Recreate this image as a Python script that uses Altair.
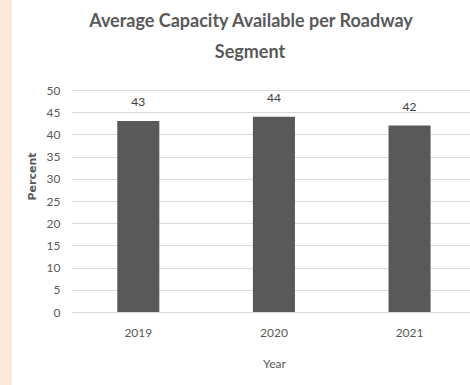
import altair as alt
import pandas as pd

years = ["2019", "2020", "2021"]
values = [43, 44, 42]
y_ticks = [0, 5, 10, 15, 20, 25, 30, 35, 40, 45, 50]
title_lines = ["Average Capacity Available per Roadway", "Segment"]

df = pd.DataFrame({"Year": years, "Percent": values})

FONT = "Lato"

x_enc = alt.X(
    "Year:N",
    sort=years,
    scale=alt.Scale(paddingInner=0.69, paddingOuter=0.316, align=0.54),
    axis=alt.Axis(
        title="Year", labelAngle=0, ticks=False, domain=False,
        labelFont=FONT, labelFontSize=12, labelColor="#595959", labelPadding=15,
        titleFont=FONT, titleFontSize=12, titleColor="#595959", titleFontWeight="normal",
        titleX=203, titleY=51, titleBaseline="middle", titleAlign="center",
    ),
)
y_enc = alt.Y(
    "Percent:Q",
    scale=alt.Scale(domain=[0, 50], nice=False),
    axis=alt.Axis(
        title="Percent", values=y_ticks, ticks=False, domain=False, labelOverlap=False,
        labelFont=FONT, labelFontSize=12, labelColor="#595959", labelPadding=11,
        gridColor="#d9d9d9", gridWidth=1,
        titleFont="DejaVu Sans", titleFontSize=11, titleColor="#595959", titleFontWeight="bold",
        titleX=-39, titleY=86, titleAngle=270, titleBaseline="middle", titleAlign="center",
    ),
)

strip = alt.Chart(pd.DataFrame({"a": [0]})).mark_rect(color="#FDE9D9", clip=False).encode(
    x=alt.value(-71), x2=alt.value(-59), y=alt.value(-90), y2=alt.value(295)
)

title1 = alt.Chart(pd.DataFrame({"t": [title_lines[0]]})).mark_text(
    font=FONT, fontSize=18, fontWeight="bold", color="#595959", align="center", baseline="alphabetic"
).encode(x=alt.value(180), y=alt.value(-63), text="t:N")
title2 = alt.Chart(pd.DataFrame({"t": [title_lines[1]]})).mark_text(
    font=FONT, fontSize=18, fontWeight="bold", color="#595959", align="center", baseline="alphabetic"
).encode(x=alt.value(179), y=alt.value(-32), text="t:N")

base = alt.Chart(df).encode(x=x_enc, y=y_enc)
bars = base.mark_bar(color="#595959")
labels = base.mark_text(
    baseline="middle", dy=-19, font=FONT, fontSize=12, color="#404040"
).encode(text="Percent:Q")

chart = alt.layer(strip, title1, title2, bars, labels).properties(
    width=399,
    height=222,
    background="white",
    autosize=alt.AutoSizeParams(type="none"),
    padding={"left": 71, "top": 90, "right": 0, "bottom": 73},
).configure_view(stroke=None)

chart.save("out.html", embed_options={"renderer": "svg", "actions": False})
